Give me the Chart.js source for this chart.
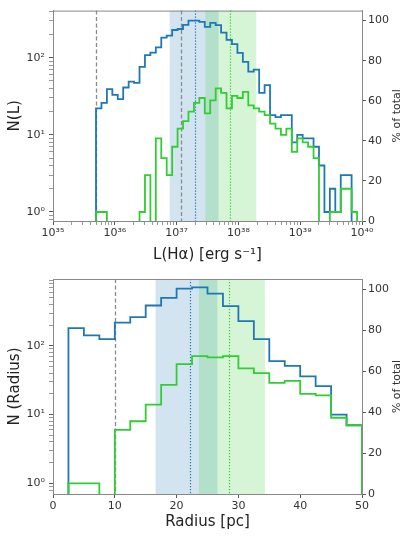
<!DOCTYPE html>
<html>
<head>
<meta charset="utf-8">
<script src="https://cdn.jsdelivr.net/npm/chart.js@4.4.1/dist/chart.umd.min.js"></script>
<style>
  html, body { margin: 0; padding: 0; background: #fff; }
  #wrap { position: relative; width: 403px; height: 536px; }
  .box { position: absolute; left: 0; width: 403px; height: 268px; }
</style>
</head>
<body>
<div id="wrap">
  <div class="box" style="top:0"><canvas id="lumChart"></canvas></div>
  <div class="box" style="top:268px"><canvas id="radChart"></canvas></div>
</div>
<script>
// H-alpha luminosity histogram, bins in log10 L
const lumBinStart = 35.696;
const lumBinWidth = 0.088;
const lumCountsAll = [22, 26, 39, 33, 29, 41, 49, 47, 76, 108, 116, 136, 182, 193, 228, 235, 266, 302, 302, 290,
  251, 282, 264, 211, 170, 150, 115, 88, 66, 70, 35, 44, 18, 17, 18, 18, 8, 10, 9, 9, 7, 4, 1, 2, 1, 3, 3, 0];
const lumCountsSel = [1, 1, 0, 0, 0, 0, 0, 0, 1, 3, 0, 9, 5, 3, 7, 12, 15, 20, 26, 30,
  19, 28, 40, 35, 22, 32, 30, 36, 24, 22, 20, 18, 14, 12, 10, 12, 6, 9, 8, 7, 5, 0, 0, 1, 1, 2, 2, 1];
// reference lines and shaded ranges (log10 L)
const lumLimits = [35.696, 37.07];
const lumMedianAll = 37.30;
const lumMedianSel = 37.86;
const lumRangeAll = [36.888, 37.68];
const lumRangeSel = [37.466, 38.29];

// radius histogram, bins in pc
const radBinStart = 2.5;
const radBinWidth = 2.5;
const radCountsAll = [181, 142, 125, 217, 262, 386, 499, 680, 710, 576, 377, 229, 125, 60, 51, 36, 26, 10, 7];
const radCountsSel = [1, 1, 0, 6, 8, 14, 27, 54, 71, 68, 71, 47, 40, 29, 31, 20, 19, 9, 7];
const radLimits = [10];
const radMedianAll = 22.1;
const radMedianSel = 28.5;
const radRangeAll = [16.6, 26.6];
const radRangeSel = [23.6, 34.3];

const pctTicks = [0, 20, 40, 60, 80, 100];

const BLUE = '#1f77b4', GREEN = '#32cd32', GREY = '#8a8a8a';
const FLOOR = 0.01; // empty bins drop below the axis

const SUP = '⁰¹²³⁴⁵⁶⁷⁸⁹';
const sup = n => String(n).split('').map(c => c === '-' ? '⁻' : SUP[+c]).join('');
const isPow = v => { const l = Math.log10(v); return Math.abs(l - Math.round(l)) < 1e-6; };
const powLabel = v => isPow(v) ? '10' + sup(Math.round(Math.log10(v))) : '';

function logTicks(min, max) {
  const t = [];
  for (let n = Math.floor(Math.log10(min)); n <= Math.ceil(Math.log10(max)); n++) {
    for (let m = 1; m < 10; m++) {
      const v = m * Math.pow(10, n);
      if (v >= min * 0.9999 && v <= max * 1.0001) t.push({value: v});
    }
  }
  return t;
}

// outline of a step histogram: up at the first edge, down at the last
function stepPoints(edges, counts) {
  const pts = [{x: edges[0], y: FLOOR}];
  counts.forEach((c, i) => pts.push({x: edges[i], y: c > 0 ? c : FLOOR}));
  pts.push({x: edges[counts.length], y: FLOOR});
  return pts;
}

function decor(bands, lines) {
  return {
    id: 'decor',
    beforeDatasetsDraw(chart) {
      const {ctx, chartArea: a, scales: {x}} = chart;
      ctx.save();
      bands.forEach(b => {
        const x1 = x.getPixelForValue(b.range[0]), x2 = x.getPixelForValue(b.range[1]);
        ctx.fillStyle = b.color;
        ctx.fillRect(x1, a.top, x2 - x1, a.bottom - a.top);
      });
      lines.forEach(l => {
        const px = Math.round(x.getPixelForValue(l.at)) + 0.5;
        ctx.beginPath();
        ctx.strokeStyle = l.color;
        ctx.lineWidth = l.width;
        ctx.setLineDash(l.dash);
        ctx.moveTo(px, a.top);
        ctx.lineTo(px, a.bottom);
        ctx.stroke();
      });
      ctx.restore();
    },
    afterDraw(chart) {
      const {ctx, chartArea: a} = chart;
      ctx.save();
      ctx.strokeStyle = '#888';
      ctx.lineWidth = 1;
      ctx.beginPath();
      ctx.moveTo(a.left, a.top + 0.5);
      ctx.lineTo(a.right, a.top + 0.5);
      ctx.stroke();
      // right axis label reads bottom to top
      ctx.translate(397, (a.top + a.bottom) / 2);
      ctx.rotate(-Math.PI / 2);
      ctx.fillStyle = '#333';
      ctx.font = '11px "DejaVu Sans"';
      ctx.textAlign = 'center';
      ctx.textBaseline = 'middle';
      ctx.fillText('% of total', 0, 0);
      ctx.restore();
    }
  };
}

Chart.defaults.font.family = '"DejaVu Sans", sans-serif';
Chart.defaults.color = '#333';
Chart.defaults.animation = false;

function makeChart(id, cfg) {
  const tick = {font: {size: 11}, color: '#333'};
  const grid = {drawOnChartArea: false, tickLength: 4, tickColor: '#555'};
  const xScale = cfg.xLog ? {
    type: 'logarithmic', min: cfg.xMin, max: cfg.xMax,
    afterBuildTicks: s => { s.ticks = logTicks(cfg.xMin, cfg.xMax); },
    ticks: {...tick, autoSkip: false, maxRotation: 0, padding: 2, callback: v => powLabel(v)},
    grid: {...grid, tickWidth: c => (c.tick && isPow(c.tick.value)) ? 1 : 0.6}
  } : {
    type: 'linear', min: cfg.xMin, max: cfg.xMax,
    ticks: {...tick, stepSize: 10, maxRotation: 0, padding: 2},
    grid
  };
  xScale.border = {color: '#888'};
  xScale.title = {display: true, text: cfg.xTitle, font: {size: 15}, color: '#222', padding: {top: 0, bottom: cfg.xTitlePad}};
  xScale.afterFit = s => { s.height = cfg.xHeight; };

  return new Chart(document.getElementById(id), {
    type: 'line',
    data: {
      datasets: [
        {data: stepPoints(cfg.edges, cfg.sel), borderColor: GREEN, borderWidth: 1.8, stepped: 'before', pointRadius: 0, order: 0},
        {data: stepPoints(cfg.edges, cfg.all), borderColor: BLUE, borderWidth: 1.8, stepped: 'before', pointRadius: 0, order: 1}
      ]
    },
    options: {
      responsive: true,
      maintainAspectRatio: false,
      devicePixelRatio: 1,
      layout: {padding: {top: cfg.padTop, left: 0, right: 0, bottom: 0}},
      plugins: {legend: {display: false}, tooltip: {enabled: false}},
      scales: {
        x: xScale,
        y: {
          type: 'logarithmic', position: 'left', min: cfg.yMin, max: cfg.yMax,
          afterBuildTicks: s => { s.ticks = logTicks(cfg.yMin, cfg.yMax); },
          ticks: {...tick, autoSkip: false, padding: 4, callback: v => powLabel(v)},
          grid: {...grid, tickWidth: c => (c.tick && isPow(c.tick.value)) ? 1 : 0.6},
          border: {color: '#888'},
          title: {display: true, text: cfg.yTitle, font: {size: 15}, color: '#222', padding: {top: 6, bottom: 0}},
          afterFit: s => { s.width = 53; }
        },
        y2: {
          type: 'linear', position: 'right', min: 0, max: 105,
          afterBuildTicks: s => { s.ticks = pctTicks.map(v => ({value: v})); },
          ticks: {...tick, padding: 2},
          grid,
          border: {color: '#888'},
          afterFit: s => { s.width = 41; }
        }
      }
    },
    plugins: [decor(cfg.bands, cfg.lines)]
  });
}

const lumEdges = [];
for (let i = 0; i <= lumCountsAll.length; i++) lumEdges.push(Math.pow(10, lumBinStart + i * lumBinWidth));
const radEdges = [];
for (let i = 0; i <= radCountsAll.length; i++) radEdges.push(radBinStart + i * radBinWidth);

const pow10 = v => Math.pow(10, v);

makeChart('lumChart', {
  xLog: true, xMin: 1e35, xMax: 1e40, yMin: 0.764, yMax: 407,
  xTitle: 'L(Hα) [erg s⁻¹]', yTitle: 'N(L)', xHeight: 47, xTitlePad: 4, padTop: 5,
  edges: lumEdges, all: lumCountsAll, sel: lumCountsSel,
  bands: [
    {range: lumRangeAll.map(pow10), color: 'rgba(31,119,180,0.2)'},
    {range: lumRangeSel.map(pow10), color: 'rgba(50,205,50,0.2)'}
  ],
  lines: [
    ...lumLimits.map(v => ({at: pow10(v), color: GREY, width: 1.3, dash: [4, 2.5]})),
    {at: pow10(lumMedianAll), color: BLUE, width: 1.2, dash: [1.2, 1.8]},
    {at: pow10(lumMedianSel), color: GREEN, width: 1.2, dash: [1.2, 1.8]}
  ]
});

makeChart('radChart', {
  xLog: false, xMin: 0, xMax: 50, yMin: 0.741, yMax: 937,
  xTitle: 'Radius [pc]', yTitle: 'N (Radius)', xHeight: 42, xTitlePad: 5, padTop: 11,
  edges: radEdges, all: radCountsAll, sel: radCountsSel,
  bands: [
    {range: radRangeAll, color: 'rgba(31,119,180,0.2)'},
    {range: radRangeSel, color: 'rgba(50,205,50,0.2)'}
  ],
  lines: [
    ...radLimits.map(v => ({at: v, color: GREY, width: 1.3, dash: [4, 2.5]})),
    {at: radMedianAll, color: BLUE, width: 1.2, dash: [1.2, 1.8]},
    {at: radMedianSel, color: GREEN, width: 1.2, dash: [1.2, 1.8]}
  ]
});
</script>
</body>
</html>
